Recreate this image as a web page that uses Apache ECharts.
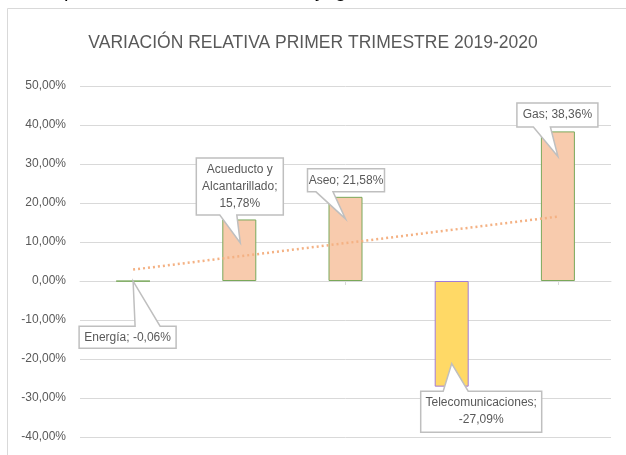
<!DOCTYPE html>
<html>
<head>
<meta charset="utf-8">
<script src="https://cdn.jsdelivr.net/npm/echarts@6/dist/echarts.min.js"></script>
<style>
  html, body { margin: 0; padding: 0; background: #fff; }
  #chart { width: 626px; height: 455px; }
</style>
</head>
<body>
<div id="chart"></div>
<script>
// datos del grafico (variacion %)
var categorias = ['Energía', 'Acueducto y Alcantarillado', 'Aseo', 'Telecomunicaciones', 'Gas'];
var variacion = [-0.06, 15.78, 21.58, -27.09, 38.36];
// textos de las etiquetas (con saltos de linea como en el original)
var etiquetas = ['Energía; -0,06%', 'Acueducto y\nAlcantarillado;\n15,78%', 'Aseo; 21,58%', 'Telecomunicaciones;\n-27,09%', 'Gas; 38,36%'];
// linea de tendencia (primer y ultimo punto)
var tendencia = [2.92, null, null, null, 16.51];
var ticksY = [-40, -30, -20, -10, 0, 10, 20, 30, 40, 50];

var gris = '#595959';
var colorBarra = '#F8CBAD';
var colorTelco = '#FFD966';

// posicion de cada llamada respecto al extremo de la barra
var llamadas = [
  { dx: -5.5, dy: 56, w: 97, h: 22, lado: 'top', b1: 7.5, b2: 32.5, tx: 0, ty: 0 },
  { dx: 0.5, dy: -33, w: 87, h: 57, lado: 'bottom', b1: -20, b2: -3, tx: 1, ty: 23.5 },
  { dx: 0.5, dy: -16.5, w: 77, h: 23, lado: 'bottom', b1: -30, b2: -13, tx: 0, ty: 22 },
  { dx: 29.5, dy: 25, w: 121, h: 41, lado: 'top', b1: -38, b2: -13, tx: 0, ty: -23 },
  { dx: -0.5, dy: -16.5, w: 81, h: 24, lado: 'bottom', b1: -24, b2: -7, tx: 0, ty: 25 }
];

var datosBarras = variacion.map(function (v, i) {
  var telco = v < -10;
  return {
    value: v,
    itemStyle: {
      color: telco ? colorTelco : colorBarra,
      borderColor: telco ? '#A07CD8' : '#7AA85A',
      borderWidth: 1
    }
  };
});

var datosLlamadas = variacion.map(function (v, i) { return [i, v]; });

function dibujarLlamada(params, api) {
  var i = api.value(0);
  var p = api.coord([i, api.value(1)]);
  var c = llamadas[i];
  var cx = p[0] + c.dx, cy = p[1] + c.dy;
  var l = cx - c.w / 2, r = cx + c.w / 2, t = cy - c.h / 2, b = cy + c.h / 2;
  var tip = [p[0] + c.tx, p[1] + c.ty];
  var pts;
  if (c.lado === 'bottom') {
    pts = [[l, t], [r, t], [r, b], [cx + c.b2, b], tip, [cx + c.b1, b], [l, b]];
  } else {
    pts = [[l, t], [cx + c.b1, t], tip, [cx + c.b2, t], [r, t], [r, b], [l, b]];
  }
  return {
    type: 'group',
    children: [
      {
        type: 'polygon',
        shape: { points: pts },
        style: { fill: '#ffffff', stroke: '#BFBFBF', lineWidth: 1.5 }
      },
      {
        type: 'text',
        x: cx,
        y: cy,
        style: {
          text: etiquetas[i],
          fill: gris,
          font: '12px "Liberation Sans", Arial, sans-serif',
          align: 'center',
          verticalAlign: 'middle',
          lineHeight: 17
        }
      }
    ]
  };
}

// restos del texto del documento que asoman por arriba
function fragmento(txt, x) {
  return {
    type: 'text',
    x: x,
    y: -19,
    silent: true,
    style: { text: txt, fill: '#000', font: '20px "Liberation Sans", Arial, sans-serif' }
  };
}

var chart = echarts.init(document.getElementById('chart'));

var option = {
  backgroundColor: '#ffffff',
  animation: false,
  title: {
    text: 'VARIACIÓN RELATIVA PRIMER TRIMESTRE 2019-2020',
    left: 'center',
    top: 29,
    textStyle: {
      color: gris,
      fontSize: 17.5,
      fontWeight: 'normal',
      fontFamily: '"Liberation Sans", Arial, sans-serif'
    }
  },
  graphic: [
    {
      type: 'rect',
      shape: { x: 7.5, y: 8.5, width: 640, height: 460 },
      style: { fill: null, stroke: '#D9D9D9', lineWidth: 1 },
      silent: true
    },
    fragmento('p', 64),
    fragmento(',', 237),
    fragmento('y', 315),
    fragmento('g', 335)
  ],
  grid: { left: 80, right: 15, top: 86, bottom: 18 },
  xAxis: {
    type: 'category',
    data: categorias,
    axisLine: { onZero: true, lineStyle: { color: '#D9D9D9' } },
    axisTick: { show: true, alignWithLabel: true, length: 4, lineStyle: { color: '#D9D9D9' } },
    axisLabel: { show: false }
  },
  yAxis: {
    type: 'value',
    min: -40,
    max: 50,
    interval: 10,
    axisLine: { show: false },
    axisTick: { show: false },
    splitLine: { lineStyle: { color: '#D9D9D9' } },
    axisLabel: {
      color: gris,
      fontSize: 12,
      margin: 14,
      fontFamily: '"Liberation Sans", Arial, sans-serif',
      formatter: function (v) { return v.toFixed(2).replace('.', ',') + '%'; }
    }
  },
  series: [
    {
      type: 'bar',
      data: datosBarras,
      barWidth: 34,
      z: 2
    },
    {
      type: 'line',
      data: tendencia,
      connectNulls: true,
      symbol: 'none',
      lineStyle: { color: '#F4B183', width: 2.5, type: [2, 3] },
      z: 3
    },
    {
      type: 'custom',
      data: datosLlamadas,
      renderItem: dibujarLlamada,
      z: 5
    }
  ]
};

chart.setOption(option);
</script>
</body>
</html>
